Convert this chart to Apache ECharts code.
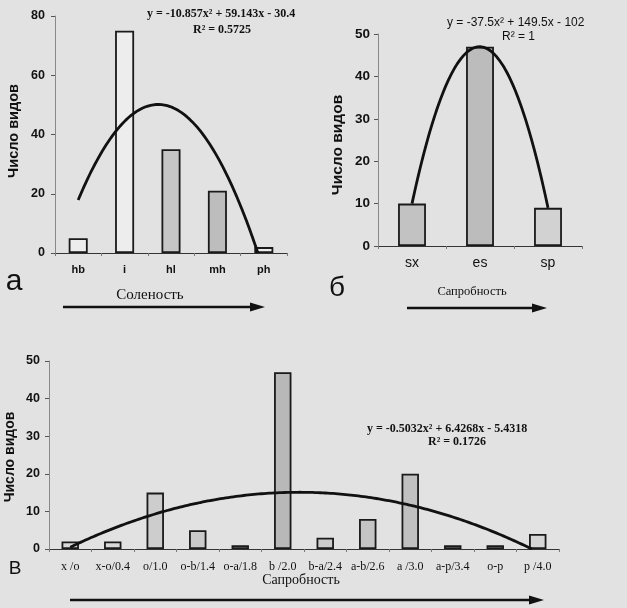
<!DOCTYPE html>
<html>
<head>
<meta charset="utf-8">
<script src="https://cdn.jsdelivr.net/npm/echarts@6/dist/echarts.min.js"></script>
<style>
html,body{margin:0;padding:0;background:#e2e2e2;}
#c{width:627px;height:608px;}
</style>
</head>
<body>
<div id="c"></div>
<script>
// ---- data ----
const catA = ['hb', 'i', 'hl', 'mh', 'ph'];
const valA = [5, 75, 35, 21, 2];
const catB = ['sx', 'es', 'sp'];
const valB = [10, 47, 9];
const catV = ['x /o', 'x-o/0.4', 'o/1.0', 'o-b/1.4', 'o-a/1.8', 'b /2.0', 'b-a/2.4', 'a-b/2.6', 'a /3.0', 'a-p/3.4', 'o-p', 'p /4.0'];
const valV = [2, 2, 15, 5, 1, 47, 3, 8, 20, 1, 1, 4];
const ticksA = [0, 20, 40, 60, 80];
const ticksB = [0, 10, 20, 30, 40, 50];
const ticksV = [0, 10, 20, 30, 40, 50];
const eqA = ['y = -10.857x\u00b2 + 59.143x - 30.4', 'R\u00b2 = 0.5725'];
const eqB = ['y = -37.5x\u00b2 + 149.5x - 102', 'R\u00b2 = 1'];
const eqV = ['y = -0.5032x\u00b2 + 6.4268x - 5.4318', 'R\u00b2 = 0.1726'];

// ---- styles (separate from data) ----
const fillA = ['#ededed', '#ededed', '#c6c6c6', '#bdbdbd', '#ededed'];
const fillB = ['#c2c2c2', '#bcbcbc', '#d2d2d2'];
const fillV = ['#d8d8d8', '#d8d8d8', '#cdcdcd', '#cacaca', '#cfcfcf', '#b8b8b8', '#cdcdcd', '#c4c4c4', '#c0c0c0', '#cfcfcf', '#cfcfcf', '#d6d6d6'];

// quadratic least-squares trendline (fitted from the bar data)
function quadFit(ys) {
  const n = ys.length;
  let S = [0,0,0,0,0], T = [0,0,0];
  for (let i = 0; i < n; i++) {
    const x = i + 1, y = ys[i];
    for (let k = 0; k < 5; k++) S[k] += Math.pow(x, k);
    for (let k = 0; k < 3; k++) T[k] += y * Math.pow(x, k);
  }
  const M = [[S[0],S[1],S[2],T[0]],[S[1],S[2],S[3],T[1]],[S[2],S[3],S[4],T[2]]];
  for (let i = 0; i < 3; i++) {
    let p = i;
    for (let r = i+1; r < 3; r++) if (Math.abs(M[r][i]) > Math.abs(M[p][i])) p = r;
    [M[i], M[p]] = [M[p], M[i]];
    for (let r = 0; r < 3; r++) if (r !== i) {
      const f = M[r][i] / M[i][i];
      for (let c = i; c < 4; c++) M[r][c] -= f * M[i][c];
    }
  }
  return [M[0][3]/M[0][0], M[1][3]/M[1][1], M[2][3]/M[2][2]];
}
function trend(ys) {
  const c = quadFit(ys), n = ys.length, f = x => c[0] + c[1]*x + c[2]*x*x;
  const pts = [];
  const step = 0.02;
  let prev = null;
  for (let x = 1; x <= n + 1e-9; x += step) {
    const y = f(x);
    if (y < 0) {
      if (prev) {
        let lo = prev[0], hi = x;
        for (let k = 0; k < 40; k++) { const m = (lo+hi)/2; if (f(m) >= 0) lo = m; else hi = m; }
        pts.push([lo, 0]);
      }
      break;
    }
    pts.push([x, y]);
    prev = [x, y];
  }
  return pts;
}

const chart = echarts.init(document.getElementById('c'), null, {renderer: 'canvas'});
const SANS = '"Liberation Sans", Arial, sans-serif';
const SERIF = '"Liberation Serif", "Times New Roman", serif';

function catAxis(grid, cats, labelFont, labelSize, bold, margin) {
  return {
    type: 'category', gridIndex: grid, data: cats, boundaryGap: true,
    axisLine: {show: true, lineStyle: {color: '#333', width: 1.2}},
    axisTick: {show: true, length: 3, lineStyle: {color: '#777'}},
    axisLabel: {interval: 0, color: '#111', fontFamily: labelFont, fontSize: labelSize, fontWeight: bold ? 'bold' : 'normal', margin: margin},
    splitLine: {show: false}
  };
}
function hiddenX(grid, n) {
  return {type: 'value', gridIndex: grid, min: 0.5, max: n + 0.5, show: false, splitLine: {show: false}};
}
function valAxis(grid, ticks, font, size, margin) {
  return {
    type: 'value', gridIndex: grid, min: ticks[0], max: ticks[ticks.length-1], interval: ticks[1]-ticks[0],
    axisLine: {show: true, lineStyle: {color: '#888', width: 1}},
    axisTick: {show: true, length: 4, lineStyle: {color: '#555'}},
    axisLabel: {color: '#111', fontFamily: font, fontSize: size, fontWeight: 'bold', margin: margin},
    splitLine: {show: false}
  };
}
function bars(xi, yi, vals, fills) {
  return {
    type: 'bar', xAxisIndex: xi, yAxisIndex: yi, barWidth: '41%',
    data: vals.map((v, i) => ({value: v, itemStyle: {color: fills[i]}})),
    itemStyle: {borderColor: '#1a1a1a', borderWidth: 1.8},
    emphasis: {disabled: true}, animation: false
  };
}
function curve(xi, yi, vals) {
  return {
    type: 'line', xAxisIndex: xi, yAxisIndex: yi, data: trend(vals),
    showSymbol: false, symbol: 'none', smooth: false,
    lineStyle: {color: '#111', width: 2.8}, animation: false, z: 5
  };
}
function txt(x, y, s, font, opts) {
  return {
    type: 'text', x: x, y: y, z: 10,
    style: Object.assign({text: s, font: font, fill: '#111', textAlign: 'center', textVerticalAlign: 'middle'}, opts || {})
  };
}
function arrow(x1, x2, y) {
  return [
    {type: 'line', z: 10, shape: {x1: x1, y1: y, x2: x2 - 10, y2: y}, style: {stroke: '#111', lineWidth: 2.4}},
    {type: 'polygon', z: 10, shape: {points: [[x2 - 15, y - 4.5], [x2, y], [x2 - 15, y + 4.5]]}, style: {fill: '#111'}}
  ];
}
function vtxt(x, y, s, font) {
  return {type: 'text', x: x, y: y, rotation: Math.PI / 2, z: 10,
    style: {text: s, font: font, fill: '#111', textAlign: 'center', textVerticalAlign: 'middle'}};
}

const option = {
  backgroundColor: '#e2e2e2',
  animation: false,
  grid: [
    {left: 55, top: 16, width: 232, height: 237},
    {left: 378, top: 34, width: 204, height: 212},
    {left: 49, top: 361, width: 510, height: 188}
  ],
  xAxis: [
    catAxis(0, catA, SANS, 11, true, 11),
    hiddenX(0, catA.length),
    catAxis(1, catB, SANS, 14, false, 10),
    hiddenX(1, catB.length),
    catAxis(2, catV, SERIF, 12, false, 12),
    hiddenX(2, catV.length)
  ],
  yAxis: [
    valAxis(0, ticksA, SANS, 12.5, 10),
    valAxis(1, ticksB, SANS, 13.5, 8),
    valAxis(2, ticksV, SANS, 12.5, 9)
  ],
  series: [
    bars(0, 0, valA, fillA), curve(1, 0, valA),
    bars(2, 1, valB, fillB), curve(3, 1, valB),
    bars(4, 2, valV, fillV), curve(5, 2, valV)
  ],
  graphic: [
    // chart a
    txt(14, 282, '\u0430', '30px ' + SANS),
    vtxt(14, 131, 'Число видов', 'bold 14.5px ' + SANS),
    txt(150, 295, 'Соленость', '15px ' + SERIF),
    txt(147, 14, eqA[0], 'bold 12px ' + SERIF, {textAlign: 'left'}),
    txt(193, 30, eqA[1], 'bold 12px ' + SERIF, {textAlign: 'left'}),
    ...arrow(63, 265, 307),
    // chart b
    txt(337, 288, '\u0431', '28px ' + SANS),
    vtxt(338, 145, 'Число видов', 'bold 15.5px ' + SANS),
    txt(472, 292, 'Сапробность', '12.5px ' + SERIF),
    txt(447, 23, eqB[0], '12px ' + SANS, {textAlign: 'left'}),
    txt(502, 37, eqB[1], '12px ' + SANS, {textAlign: 'left'}),
    ...arrow(407, 547, 308),
    // chart v
    txt(15, 569, '\u0412', '19px ' + SANS),
    vtxt(10, 457, 'Число видов', 'bold 14px ' + SANS),
    txt(301, 580, 'Сапробность', '14px ' + SERIF),
    txt(367, 429, eqV[0], 'bold 12px ' + SERIF, {textAlign: 'left'}),
    txt(428, 442, eqV[1], 'bold 12px ' + SERIF, {textAlign: 'left'}),
    ...arrow(70, 544, 600)
  ]
};
chart.setOption(option);
</script>
</body>
</html>
